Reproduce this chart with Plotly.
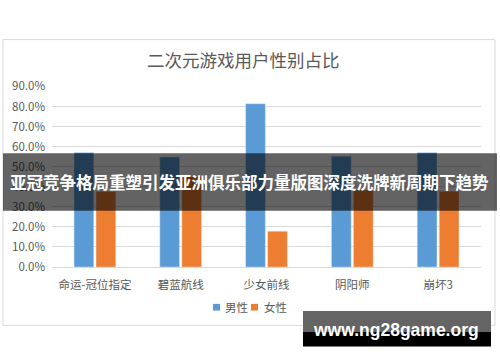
import plotly.graph_objects as go

categories = ["命运-冠位指定", "碧蓝航线", "少女前线", "阴阳师", "崩坏3"]
male = [57.1, 54.8, 81.4, 55.2, 57.1]
female = [37.6, 45.2, 17.9, 38.4, 37.8]
y_ticks = [0, 10, 20, 30, 40, 50, 60, 70, 80, 90]
series_names = ["男性", "女性"]
series_colors = ["#5B9BD5", "#ED7D31"]
title_text = "二次元游戏用户性别占比"
banner_text = "亚冠竞争格局重塑引发亚洲俱乐部力量版图深度洗牌新周期下趋势"
watermark_text = "www.ng28game.org"

W, H = 500, 362
FONT = "Noto Sans CJK SC, Microsoft YaHei, sans-serif"
GRAY = "#595959"

def px(x):
    return x / W

def py(y):
    return 1 - y / H

fig = go.Figure()
fig.add_trace(go.Bar(x=categories, y=male, name=series_names[0], marker_color=series_colors[0]))
fig.add_trace(go.Bar(x=categories, y=female, name=series_names[1], marker_color=series_colors[1]))

fig.update_layout(
    width=W, height=H,
    margin=dict(l=0, r=0, t=0, b=0),
    paper_bgcolor="white", plot_bgcolor="white",
    barmode="group", bargap=0.487, bargroupgap=0.1,
    font=dict(family=FONT, color=GRAY, size=11),
    showlegend=False,
    xaxis=dict(domain=[px(52), px(481)], showgrid=False, showline=False, ticks="",
               tickfont=dict(size=11.5, color=GRAY), ticklabelstandoff=9, fixedrange=True),
    yaxis=dict(domain=[py(270), py(81)], range=[0, 90], tickvals=y_ticks,
               ticktext=[f"{v:.1f}%" for v in y_ticks],
               showgrid=True, gridcolor="#d9d9d9", gridwidth=1,
               zeroline=True, zerolinecolor="#d9d9d9", zerolinewidth=1,
               showline=False, ticks="", tickfont=dict(size=11.5, color=GRAY),
               ticklabelstandoff=6, fixedrange=True),
)

shapes = [
    dict(type="rect", xref="paper", yref="paper", x0=px(3), x1=px(495), y0=py(331), y1=py(32),
         line=dict(color="#d9d9d9", width=1), fillcolor="rgba(0,0,0,0)", layer="below"),
]
# legend (manual, compact like the reference)
legend_sq_x = [213, 251]
legend_txt_x = [223, 262]
for i, name in enumerate(series_names):
    shapes.append(dict(type="rect", xref="paper", yref="paper",
                       x0=px(legend_sq_x[i]), x1=px(legend_sq_x[i] + 7),
                       y0=py(315.5), y1=py(308.5),
                       line=dict(width=0), fillcolor=series_colors[i], layer="above"))
    fig.add_annotation(text=name, xref="paper", yref="paper", x=px(legend_txt_x[i]), y=py(312),
                       xanchor="left", yanchor="middle", showarrow=False,
                       font=dict(size=11.5, color=GRAY, family=FONT))

shapes += [
    dict(type="rect", xref="paper", yref="paper", x0=px(3), x1=px(497), y0=py(211), y1=py(151),
         line=dict(width=0), fillcolor="rgba(0,0,0,0.61)", layer="above"),
    dict(type="rect", xref="paper", yref="paper", x0=px(303), x1=px(491), y0=py(338), y1=py(316),
         line=dict(width=0), fillcolor="#646464", layer="above"),
    dict(type="rect", xref="paper", yref="paper", x0=px(303), x1=px(491), y0=py(353), y1=py(338),
         line=dict(width=0), fillcolor="#000000", layer="above"),
]
fig.update_layout(shapes=shapes)

fig.add_annotation(text=title_text, xref="paper", yref="paper", x=px(243), y=py(53),
                   xanchor="center", yanchor="middle", showarrow=False,
                   font=dict(size=17.5, color=GRAY, family=FONT))
fig.add_annotation(text=f"<b>{banner_text}</b>", xref="paper", yref="paper", x=px(249), y=py(181),
                   xanchor="center", yanchor="middle", showarrow=False,
                   font=dict(size=16.5, color="white", family=FONT))
fig.add_annotation(text=f"<b>{watermark_text}</b>", xref="paper", yref="paper", x=px(396), y=py(336),
                   xanchor="center", yanchor="middle", showarrow=False,
                   font=dict(size=17.5, color="white", family="Liberation Sans, Arial, sans-serif"))

fig.write_html("out.html", config=dict(displayModeBar=False))
